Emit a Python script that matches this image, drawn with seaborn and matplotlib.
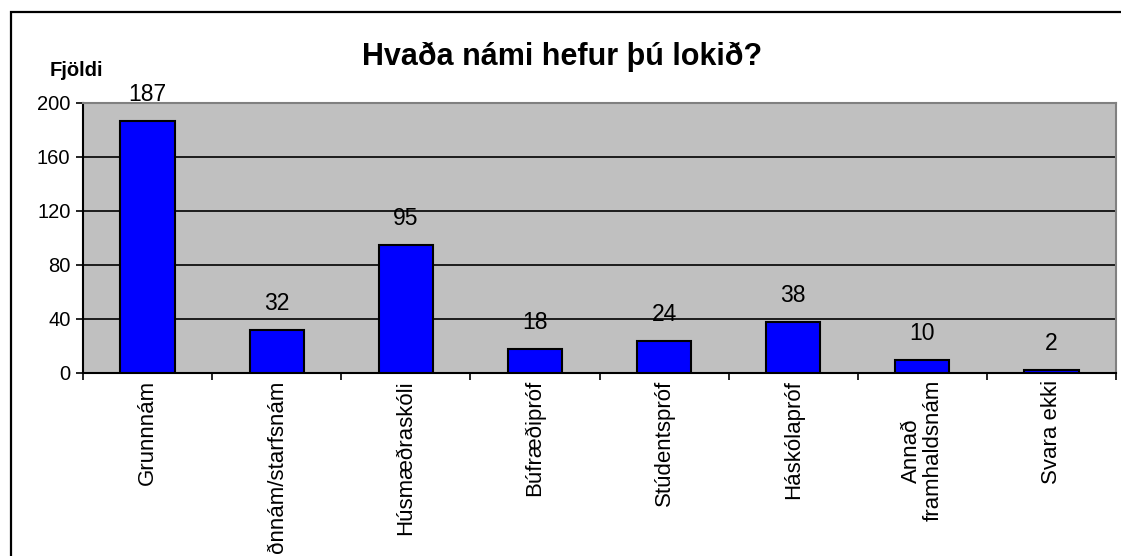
import matplotlib
matplotlib.use("Agg")
import matplotlib.pyplot as plt
import seaborn as sns
import pandas as pd
from matplotlib.patches import Rectangle
from matplotlib.ticker import FixedLocator

categories = ["Grunnnám", "Iðnnám/starfsnám", "Húsmæðraskóli", "Búfræðipróf",
              "Stúdentspróf", "Háskólapróf", "Annað\nframhaldsnám", "Svara ekki"]
values = [187, 32, 95, 18, 24, 38, 10, 2]
yticks = [0, 40, 80, 120, 160, 200]
title = "Hvaða námi hefur þú lokið?"
ylabel = "Fjöldi"

sns.set_theme(style="white")
plt.rcParams['font.family'] = ['Liberation Sans', 'DejaVu Sans']
plt.rcParams['text.color'] = 'black'
plt.rcParams['xtick.color'] = 'black'
plt.rcParams['ytick.color'] = 'black'
plt.rcParams['axes.labelcolor'] = 'black'

df = pd.DataFrame({"cat": categories, "val": values})

fig = plt.figure(figsize=(11.21, 5.56), dpi=100)
ax = fig.add_axes([83/1121, 1-373/556, (1116-83)/1121, (373-103)/556])
ax.set_facecolor("#C0C0C0")

sns.barplot(data=df, x="cat", y="val", color="#0000FF", width=0.42,
            edgecolor="black", linewidth=1.5, saturation=1, ax=ax, zorder=3)

ax.set_ylim(0, 200)
ax.set_xlim(-0.5, len(categories) - 0.5)
ax.set_yticks(yticks)
ax.yaxis.grid(True, color="black", linewidth=1.2, zorder=1)
ax.set_axisbelow(True)
ax.set_xlabel("")
ax.set_ylabel("")

for i, v in enumerate(values):
    ax.annotate(str(v), (i, v), xytext=(0, 19), textcoords="offset points",
                ha="center", va="center", fontsize=16.5, color="black")

ax.tick_params(axis="y", direction="out", length=5, width=1.2, color="black",
               labelsize=14.5, pad=4, left=True, labelcolor="black")
ax.set_xticks(range(len(categories)))
ax.set_xticklabels(categories, rotation=90, fontsize=16, va="top", ha="center",
                   linespacing=1.0, color="black")
ax.tick_params(axis="x", which="major", length=0, pad=5)
ax.xaxis.set_minor_locator(FixedLocator([i - 0.5 for i in range(len(categories) + 1)]))
ax.tick_params(axis="x", which="minor", direction="out", length=5, width=1.2,
               color="black", bottom=True)

for s in ["left", "bottom"]:
    ax.spines[s].set_color("black")
    ax.spines[s].set_linewidth(1.5)
for s in ["top", "right"]:
    ax.spines[s].set_color("#808080")
    ax.spines[s].set_linewidth(1.5)

fig.text(562/1121, 1-57/556, title, ha="center", va="center",
         fontsize=22, fontweight="bold", color="black")
fig.text(76/1121, 1-70/556, ylabel, ha="center", va="center",
         fontsize=14.5, fontweight="bold", color="black")

frame = Rectangle((11/1121, -0.1), 1.2, 1.1 - 12/556, transform=fig.transFigure,
                  fill=False, edgecolor="black", linewidth=1.6, zorder=10)
fig.patches.append(frame)

fig.savefig("out.png", dpi=100)
